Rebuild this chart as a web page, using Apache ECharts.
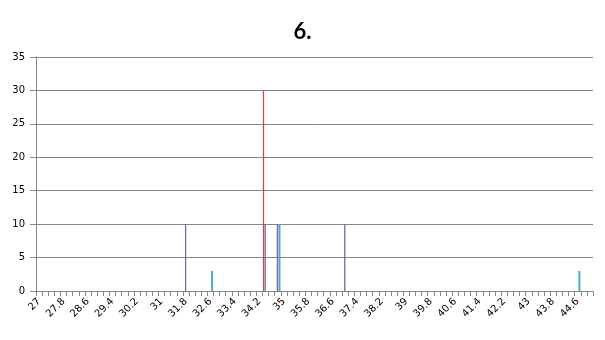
<!DOCTYPE html>
<html>
<head>
<meta charset="utf-8">
<script src="https://cdn.jsdelivr.net/npm/echarts@6/dist/echarts.min.js"></script>
<style>
html,body{margin:0;padding:0;background:#fff;}
#c{width:605px;height:340px;}
</style>
</head>
<body>
<div id="c"></div>
<script>
// Categories: 27 to 45 in steps of 0.2
const categories = ["27","27.2","27.4","27.6","27.8","28","28.2","28.4","28.6","28.8","29","29.2","29.4","29.6","29.8","30","30.2","30.4","30.6","30.8","31","31.2","31.4","31.6","31.8","32","32.2","32.4","32.6","32.8","33","33.2","33.4","33.6","33.8","34","34.2","34.4","34.6","34.8","35","35.2","35.4","35.6","35.8","36","36.2","36.4","36.6","36.8","37","37.2","37.4","37.6","37.8","38","38.2","38.4","38.6","38.8","39","39.2","39.4","39.6","39.8","40","40.2","40.4","40.6","40.8","41","41.2","41.4","41.6","41.8","42","42.2","42.4","42.6","42.8","43","43.2","43.4","43.6","43.8","44","44.2","44.4","44.6","44.8","45"];

// Non-zero readings per series: [category, value]
const redPoints = [["34.4", 30]];
const purplePoints = [["31.8", 10], ["34.4", 10], ["34.8", 10], ["37", 10]];
const aquaPoints = [["32.6", 3], ["34.8", 10], ["44.6", 3]];

const yTicks = [0, 5, 10, 15, 20, 25, 30, 35];

function toSeries(points) {
  const arr = categories.map(() => 0);
  points.forEach(([c, v]) => { arr[categories.indexOf(c)] = v; });
  return arr;
}

const chart = echarts.init(document.getElementById('c'), null, {renderer: 'canvas'});
const axisColor = '#868686';
chart.setOption({
  animation: false,
  title: {
    text: '6.',
    left: 'center',
    top: 16,
    textStyle: {fontFamily: 'Lato', fontWeight: 'bold', fontSize: 22, color: '#000'}
  },
  grid: {left: 36, right: 12, top: 57, bottom: 49, containLabel: false},
  xAxis: {
    type: 'category',
    data: categories,
    boundaryGap: true,
    axisLine: {lineStyle: {color: axisColor, width: 1}},
    axisTick: {show: true, interval: 0, length: 5, lineStyle: {color: axisColor}},
    axisLabel: {interval: 3, rotate: 45, margin: 9, fontFamily: 'DejaVu Sans', fontSize: 10, color: '#000'},
    splitLine: {show: false}
  },
  yAxis: {
    type: 'value',
    min: yTicks[0],
    max: yTicks[yTicks.length - 1],
    interval: 5,
    axisLine: {show: true, lineStyle: {color: axisColor}},
    axisTick: {show: true, length: 6, inside: false, lineStyle: {color: axisColor}},
    axisLabel: {margin: 11, fontFamily: 'DejaVu Sans', fontSize: 10, color: '#000'},
    splitLine: {show: true, lineStyle: {color: axisColor, width: 1}}
  },
  series: [
    {type: 'bar', name: 'red', data: toSeries(redPoints), barWidth: 1.3, barGap: '30%', itemStyle: {color: '#c0504d'}},
    {type: 'bar', name: 'purple', data: toSeries(purplePoints), barWidth: 1.3, barGap: '30%', itemStyle: {color: '#8064a2'}},
    {type: 'bar', name: 'aqua', data: toSeries(aquaPoints), barWidth: 2, barGap: '30%', itemStyle: {color: '#4bacc6'}}
  ]
});
</script>
</body>
</html>
